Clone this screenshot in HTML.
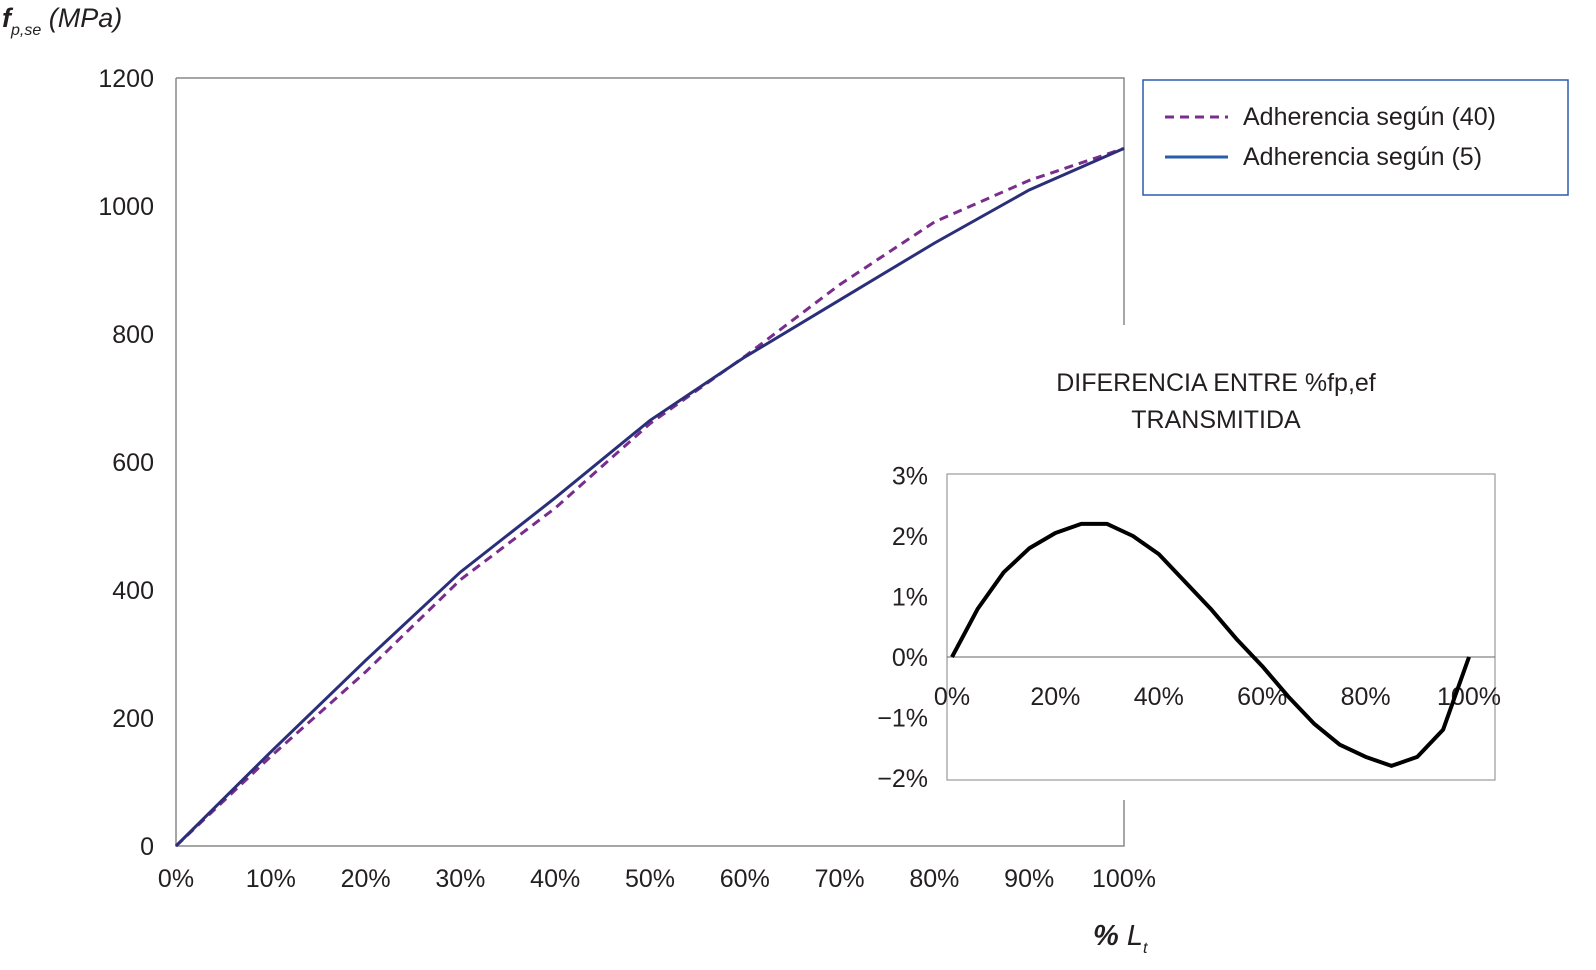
<!DOCTYPE html>
<html><head><meta charset="utf-8"><style>
html,body{margin:0;padding:0;background:#fff;overflow:hidden;width:1596px;height:970px;}
svg{display:block;}
svg text{font-family:"Liberation Sans",sans-serif;fill:#231f20;}
</style></head><body>
<svg width="1596" height="970" viewBox="0 0 1596 970" xmlns="http://www.w3.org/2000/svg">
<g id="main"></g>
<g id="inset"></g>
</svg>
<script>
const xCats=[0,10,20,30,40,50,60,70,80,90,100];
const solidVals=[0,147,290,428,544,665,764,853,942,1025,1090];
const dashedVals=[0,140,272,416,528,660,765,877,975,1040,1090];
const yTicks=[0,200,400,600,800,1000,1200];
const insetX=[0,5,10,15,20,25,30,35,40,45,50,55,60,65,70,75,80,85,90,95,100];
const insetVals=[0,0.8,1.4,1.8,2.05,2.2,2.2,2.0,1.7,1.25,0.8,0.3,-0.15,-0.65,-1.1,-1.45,-1.65,-1.8,-1.65,-1.2,0];
const insetYTicks=[3,2,1,0,-1,-2];
const insetXTicks=[0,20,40,60,80,100];

const NS="http://www.w3.org/2000/svg";
function mk(p,t,a,txt){const e=document.createElementNS(NS,t);for(const k in a)e.setAttribute(k,a[k]);if(txt!==undefined)e.textContent=txt;p.appendChild(e);return e;}
const X=v=>176+v/100*948, Y=v=>846-v*0.64;
const m=document.getElementById('main');
let e;
e=mk(m,'path',{d:'M176 78 H1124 V325 M1124 800 V846 H176 V78',fill:'none',stroke:'#888','stroke-width':1.5});


yTicks.forEach(t=>{
 e=mk(m,'text',{x:154,y:Y(t)+9,'text-anchor':'end','font-size':25},t);
 
 
});
xCats.forEach(t=>{
 e=mk(m,'text',{x:X(t),y:887,'text-anchor':'middle','font-size':25},t+'%');
 
 
});
const pts=(xs,vs,fx,fy)=>xs.map((x,i)=>fx(x)+','+fy(vs[i])).join(' ');
e=mk(m,'polyline',{points:pts(xCats,dashedVals,X,Y),fill:'none',stroke:'#7b2d8e','stroke-width':3,'stroke-dasharray':'9 6'});


e=mk(m,'polyline',{points:pts(xCats,solidVals,X,Y),fill:'none',stroke:'#2b2f7a','stroke-width':3});


e=mk(m,'text',{x:2,y:27,'font-size':27,'font-style':'italic'});
e.innerHTML='<tspan font-weight="bold">f</tspan><tspan font-size="16" dy="8">p,se</tspan><tspan dy="-8"> (MPa)</tspan>';


e=mk(m,'text',{x:1093,y:945,'font-size':29,'font-style':'italic'});
e.innerHTML='<tspan font-weight="bold">%</tspan> L<tspan font-size="16" dy="8">t</tspan>';


const lg=mk(m,'g',{});


mk(lg,'rect',{x:1143,y:80,width:425,height:115,fill:'#fff',stroke:'#2a5caa','stroke-width':1.5});
e=mk(lg,'line',{x1:1165,y1:117,x2:1228,y2:117,stroke:'#7b2d8e','stroke-width':3,'stroke-dasharray':'9 6'});


mk(lg,'text',{x:1243,y:125,'font-size':25},'Adherencia según (40)');
e=mk(lg,'line',{x1:1165,y1:157,x2:1228,y2:157,stroke:'#2a5caa','stroke-width':3});


mk(lg,'text',{x:1243,y:165,'font-size':25},'Adherencia según (5)');
const n=document.getElementById('inset');
const IX=v=>952+v/100*517, IY=v=>657-v*60.5;
e=mk(n,'rect',{x:947,y:474,width:548,height:306,fill:'#fff',stroke:'#999','stroke-width':1.2});


mk(n,'line',{x1:947,y1:657,x2:1495,y2:657,stroke:'#666','stroke-width':1});
e=mk(n,'text',{x:1216,y:391,'text-anchor':'middle','font-size':25},'DIFERENCIA ENTRE %fp,ef');


mk(n,'text',{x:1216,y:428,'text-anchor':'middle','font-size':25},'TRANSMITIDA');
insetYTicks.forEach(t=>{
 e=mk(n,'text',{x:928,y:IY(t)+9,'text-anchor':'end','font-size':25},(t<0?'\u2212':'')+Math.abs(t)+'%');
 
 
});
insetXTicks.forEach(t=>{
 e=mk(n,'text',{x:IX(t),y:705,'text-anchor':'middle','font-size':25},t+'%');
 
 
});
e=mk(n,'polyline',{points:pts(insetX,insetVals,IX,IY),fill:'none',stroke:'#000','stroke-width':4,'stroke-linejoin':'round'});


</script>
</body></html>
